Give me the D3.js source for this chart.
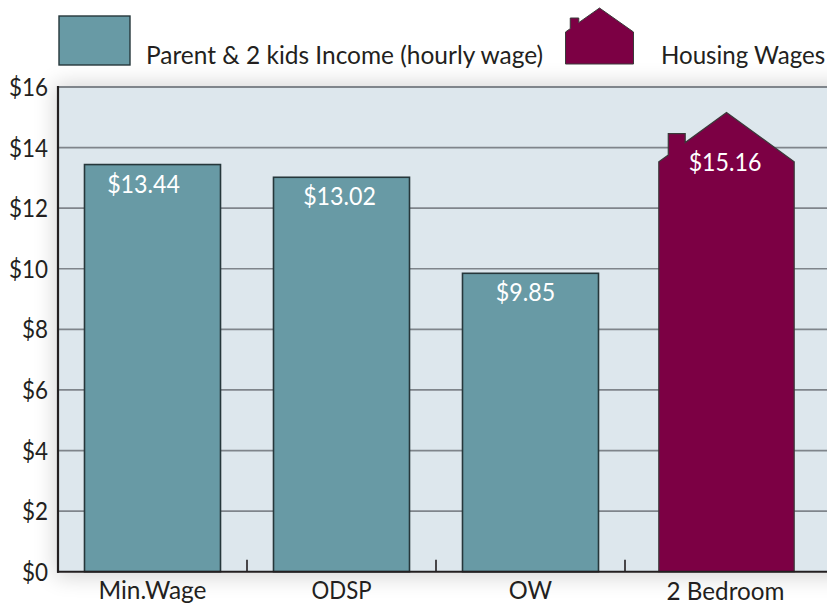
<!DOCTYPE html>
<html><head><meta charset="utf-8">
<script src="https://cdnjs.cloudflare.com/ajax/libs/d3/7.8.5/d3.min.js"></script>
<style>html,body{margin:0;padding:0;background:#fff}svg{display:block}text{font-family:Lato,"Open Sans",sans-serif;fill:#231f20}</style>
</head><body><svg id="c" width="827" height="604"></svg>
<script>
const categories = ["Min.Wage","ODSP","OW","2 Bedroom"];
const values = [13.44,13.02,9.85,15.16];
const valueLabels = ["$13.44","$13.02","$9.85","$15.16"];
const yTicks = [0,2,4,6,8,10,12,14,16];
const legendLabels = ["Parent & 2 kids Income (hourly wage)","Housing Wages"];
const barColor = "#689aa5", houseColor = "#7c0044", bg = "#dde7ed";
const labelDx = [-9,-2,-5,5.5], catDx = [0,0,0,6], fontSize = 25.5, squeeze = .96, numSqueeze = .88, catSqueeze = [.96,.87,.93,.95], legendSqueeze = [.96,.945];

const svg = d3.select("#c");
const L = 58, T = 87, B = 571.7, R = 827;
const y = d3.scaleLinear().domain([0,16]).range([B,T]);
const x = d3.scaleBand().domain(categories).range([L,L+189*4]).paddingInner(0).paddingOuter(0);
const bw = 136;

const defs = svg.append("defs");
defs.append("filter").attr("id","glow").attr("x","-10%").attr("y","-10%").attr("width","120%").attr("height","120%")
  .append("feGaussianBlur").attr("stdDeviation",11);
svg.append("rect").attr("x",L-3).attr("y",T-3).attr("width",R-L+40).attr("height",B-T+8)
  .attr("fill","#000").attr("opacity",.17).attr("filter","url(#glow)");
svg.append("rect").attr("x",L).attr("y",T).attr("width",R-L).attr("height",B-T).attr("fill",bg);

// grid
svg.selectAll("line.g").data(yTicks.filter(d=>d>0)).join("line").attr("class","g")
  .attr("x1",L).attr("x2",R).attr("y1",d=>y(d)).attr("y2",d=>y(d))
  .attr("stroke","#7f858b").attr("stroke-width",d=>d==16?2:1.7);

// y tick labels
svg.selectAll("text.yt").data(yTicks).join("text").attr("class","yt")
  .attr("text-anchor","end").attr("font-size",fontSize)
  .attr("transform",d=>`translate(48,${y(d)+9}) scale(${numSqueeze},1)`).text(d=>"$"+d);

// separators between categories
svg.selectAll("line.t").data(categories.slice(1)).join("line").attr("class","t")
  .attr("x1",d=>x(d)).attr("x2",d=>x(d)).attr("y1",B-12).attr("y2",B)
  .attr("stroke","#231f20").attr("stroke-width",1.6);

// bars
const house = (x0,x1,yApex,yEave,yBot,chimTop)=>{
  const w=x1-x0, a=d3.path(), ax=x0+w*.5;
  const roofAt = t => yEave-(yEave-yApex)*(t/.5);
  a.moveTo(x0,yBot); a.lineTo(x0,yEave);
  a.lineTo(x0+w*.07,roofAt(.07));
  a.lineTo(x0+w*.07,chimTop);
  a.lineTo(x0+w*.195,chimTop);
  a.lineTo(x0+w*.195,roofAt(.195));
  a.lineTo(ax,yApex); a.lineTo(x1,yEave); a.lineTo(x1,yBot); a.closePath();
  return a.toString();
};
const bars = categories.slice(0,3);
svg.selectAll("rect.b").data(bars).join("rect").attr("class","b")
  .attr("x",d=>x(d)+x.bandwidth()/2-bw/2).attr("width",bw)
  .attr("y",(d,i)=>y(values[i])).attr("height",(d,i)=>B-y(values[i]))
  .attr("fill",barColor).attr("stroke","#26373b").attr("stroke-width",1.6);
const hc = x(categories[3])+x.bandwidth()/2+7;
svg.append("path").attr("d",house(hc-67.7,hc+67.7,y(values[3]),y(13.53),B,y(14.46)))
  .attr("fill",houseColor).attr("stroke","#3a3a3a").attr("stroke-width",1.2);

// axes
svg.append("line").attr("x1",L).attr("x2",L).attr("y1",T-1).attr("y2",B+1).attr("stroke","#231f20").attr("stroke-width",2.2);
svg.append("line").attr("x1",L-1).attr("x2",R).attr("y1",B).attr("y2",B).attr("stroke","#231f20").attr("stroke-width",2);

// value labels
svg.selectAll("text.v").data(valueLabels).join("text").attr("class","v")
  .attr("text-anchor","middle").attr("font-size",fontSize).style("fill","#fff")
  .attr("transform",(d,i)=>`translate(${x(categories[i])+x.bandwidth()/2+labelDx[i]},${y(i==3?13.8:values[i])+(i==3?17.5:28)}) scale(${numSqueeze+.03},1)`)
  .text(d=>d);

// category labels
svg.selectAll("text.c").data(categories).join("text").attr("class","c")
  .attr("text-anchor","middle").attr("font-size",fontSize)
  .attr("transform",(d,i)=>`translate(${x(d)+x.bandwidth()/2+catDx[i]},${i==3?600:598.5}) scale(${catSqueeze[i]},1)`)
  .text(d=>d);

// legend
svg.append("rect").attr("x",59).attr("y",16).attr("width",71).attr("height",49)
  .attr("fill",barColor).attr("stroke","#26373b").attr("stroke-width",1.4);
svg.append("text").attr("font-size",fontSize).attr("transform",`translate(146,64) scale(${legendSqueeze[0]},1)`).text(legendLabels[0]);
svg.append("path").attr("d",house(565.5,633.5,8,32,64,18)).attr("fill",houseColor).attr("stroke","#3a3a3a").attr("stroke-width",1);
svg.append("text").attr("font-size",fontSize).attr("transform",`translate(661,64) scale(${legendSqueeze[1]},1)`).text(legendLabels[1]);
</script></body></html>
